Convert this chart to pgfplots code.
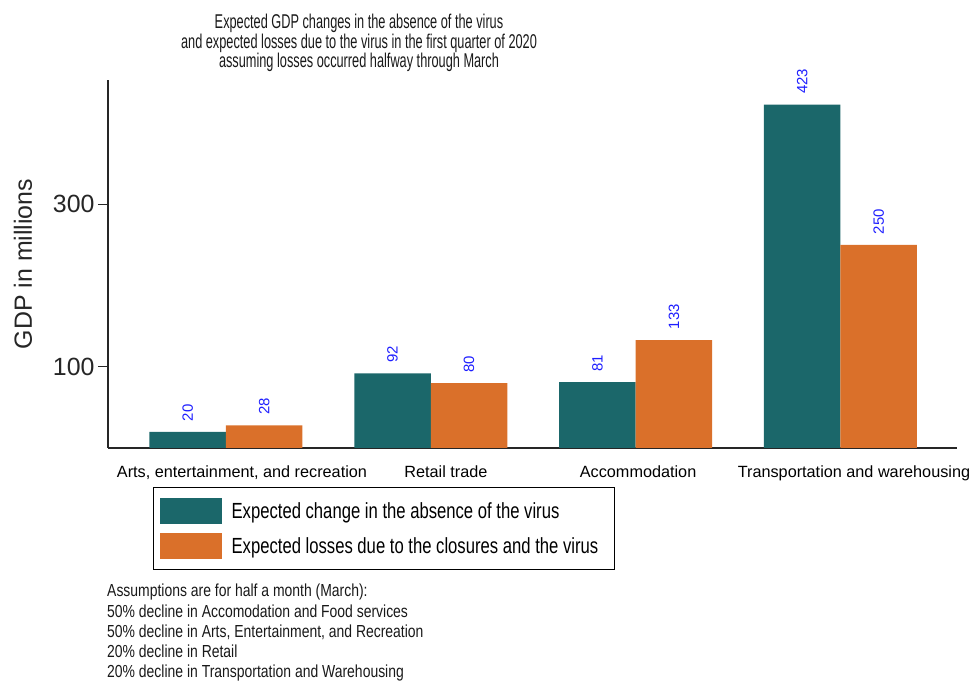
\documentclass[border=0pt]{standalone}
\usepackage{fontspec}
\setmainfont{Liberation Sans}
\newfontfamily\titlefont[FakeStretch=0.64]{Liberation Sans}
\newfontfamily\legfont[FakeStretch=0.76]{Liberation Sans}
\newfontfamily\notefont[FakeStretch=0.80]{Liberation Sans}
\usepackage{pgfplots}
\pgfplotsset{compat=1.18}

\definecolor{tealbar}{RGB}{27,103,106}
\definecolor{orangebar}{RGB}{218,112,42}
\definecolor{valblue}{RGB}{30,30,255}

\begin{document}
\begin{tikzpicture}
\useasboundingbox (0,0) rectangle (972bp,683bp);

\begin{axis}[
    at={(108bp,235bp)}, anchor=south west,
    scale only axis, width=849bp, height=368bp,
    ybar, bar width=0.3735,
    xmin=-0.576, xmax=3.569, ymin=0, ymax=453.2,
    axis x line=bottom, axis y line=left,
    axis line style={-, line width=1.3bp, black!85},
    xtick={0.078,1.074,2.012,3.066},
    xticklabels={{Arts, entertainment, and recreation},{Retail trade},{Accommodation},{Transportation and warehousing}},
    x tick style={draw=none},
    x tick label style={font=\fontsize{16.3}{16}\selectfont, yshift=-4bp},
    ytick={100,300},
    y tick label style={font=\fontsize{25}{25}\selectfont, text=black!85},
    y tick style={line width=1.3bp, black!85},
    tick align=outside, major tick length=10bp,
    /pgf/number format/assume math mode=true,
    ylabel={GDP in millions},
    ylabel style={font=\fontsize{25}{25}\selectfont, text=black!85,
        at={(axis description cs:-0.1001,0.5)}, anchor=center},
    nodes near coords,
    every node near coord/.append style={rotate=90, anchor=west,
        inner xsep=10.5bp, inner ysep=0bp,
        font=\fontsize{15}{15}\selectfont, text=valblue},
    legend style={at={(axis description cs:0.053,-0.106)}, anchor=north west,
        draw=black, line width=1.2bp, font=\legfont\fontsize{22}{22}\selectfont,
        inner xsep=6bp, inner ysep=10.5bp, row sep=9bp,
        nodes={inner xsep=10bp, inner ysep=2bp}, cells={anchor=west}},
    legend image code/.code={\fill[#1] (0bp,-13bp) rectangle (62bp,13bp);},
]

% Expected change in the absence of the virus
\addplot[fill=tealbar, draw=none, bar shift=-0.18675]
    coordinates {(0,20) (1,92) (2,81) (3,423)};
\addlegendentry{Expected change in the absence of the virus}

% Expected losses due to closures and the virus
\addplot[fill=orangebar, draw=none, bar shift=0.18675]
    coordinates {(0,28) (1,80) (2,133) (3,250)};
\addlegendentry{Expected losses due to the closures and the virus}

\end{axis}

% title
\node[anchor=north, align=center, inner sep=0pt, text=black!90,
      font=\titlefont\fontsize{20}{19.5}\selectfont] at (359bp,669bp)
    {Expected GDP changes in the absence of the virus\\
     and expected losses due to the virus in the first quarter of 2020\\
     assuming losses occurred halfway through March};

% notes
\node[anchor=north west, align=left, inner sep=0pt, text=black!90,
      font=\notefont\fontsize{17.5}{20.3}\selectfont] at (107bp,99bp)
    {Assumptions are for half a month (March):\\
     50\% decline in Accomodation and Food services\\
     50\% decline in Arts, Entertainment, and Recreation\\
     20\% decline in Retail\\
     20\% decline in Transportation and Warehousing};
\end{tikzpicture}
\end{document}
